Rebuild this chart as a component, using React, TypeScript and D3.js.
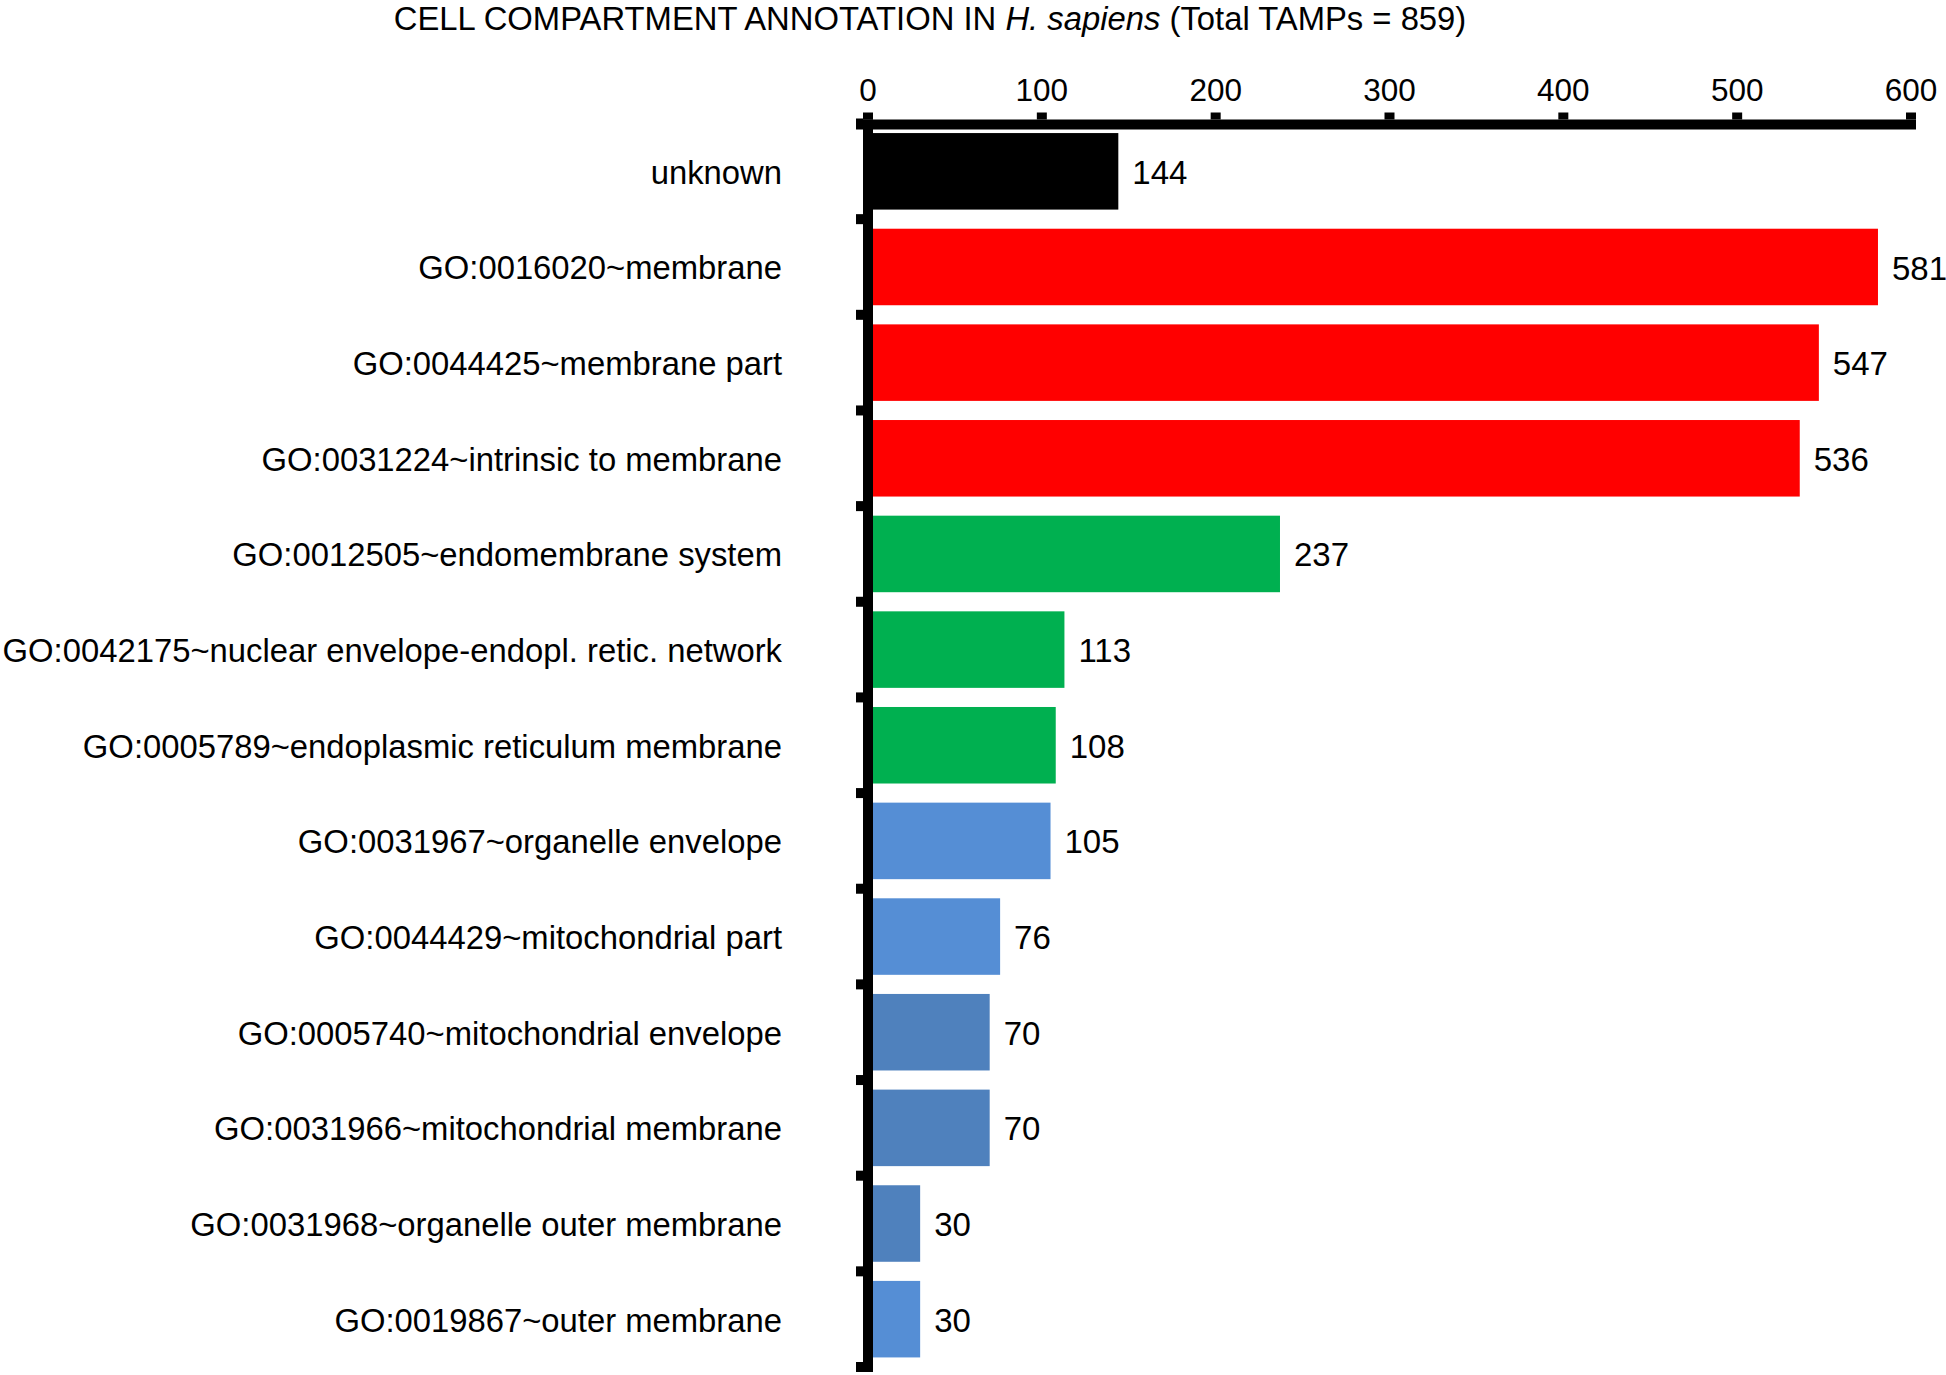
import React from "react";
import * as d3 from "d3";

const categories = [
  "unknown",
  "GO:0016020~membrane",
  "GO:0044425~membrane part",
  "GO:0031224~intrinsic to membrane",
  "GO:0012505~endomembrane system",
  "GO:0042175~nuclear envelope-endopl. retic. network",
  "GO:0005789~endoplasmic reticulum membrane",
  "GO:0031967~organelle envelope",
  "GO:0044429~mitochondrial part",
  "GO:0005740~mitochondrial envelope",
  "GO:0031966~mitochondrial membrane",
  "GO:0031968~organelle outer membrane",
  "GO:0019867~outer membrane",
];
const values = [144, 581, 547, 536, 237, 113, 108, 105, 76, 70, 70, 30, 30];
const barColors = [
  "#000000",
  "#ff0000", "#ff0000", "#ff0000",
  "#00b050", "#00b050", "#00b050",
  "#558ed5", "#558ed5",
  "#4f81bd", "#4f81bd", "#4f81bd",
  "#558ed5",
];
const xTicks = [0, 100, 200, 300, 400, 500, 600];

const FONT = "'Liberation Sans', Arial, Helvetica, sans-serif";

export default function App() {
  const W = 1946, H = 1375;
  const x = d3.scaleLinear().domain([0, 600]).range([868, 1911]);
  const y = d3.scaleBand<string>().domain(categories).range([123.5, 1367]).paddingInner(0.2).paddingOuter(0.1);
  const step = y.step();
  const boundaries = d3.range(categories.length + 1).map((i) => 123.5 + i * step);
  const axisY = 124.5;
  const axisX = x(0);
  const lw = 10;

  return (
    <svg width={W} height={H} style={{ position: "absolute", left: 0, top: 0, background: "#fff" }} fontFamily={FONT}>
      <rect x={0} y={0} width={W} height={H} fill="#fff" />
      <text x={930} y={30} textAnchor="middle" fontSize={32.8} fill="#000">
        CELL COMPARTMENT ANNOTATION IN <tspan fontStyle="italic">H. sapiens</tspan> (Total TAMPs = 859)
      </text>

      {categories.map((c, i) => (
        <rect key={"b" + i} x={x(0)} y={y(c)!} width={x(values[i]) - x(0)} height={y.bandwidth()} fill={barColors[i]} />
      ))}

      {categories.map((c, i) => (
        <text key={"v" + i} x={x(values[i]) + 14} y={y(c)! + y.bandwidth() / 2} dy="0.38em" fontSize={33} fill="#000">
          {values[i]}
        </text>
      ))}

      {categories.map((c, i) => (
        <text key={"c" + i} x={782} y={y(c)! + y.bandwidth() / 2} dy="0.38em" textAnchor="end" fontSize={32.8} fill="#000">
          {c}
        </text>
      ))}

      {/* top axis */}
      <rect x={856} y={axisY - lw / 2} width={x(600) + 5 - 856} height={lw} fill="#000" />
      {xTicks.map((t) => (
        <g key={"t" + t}>
          <rect x={x(t) - lw / 2} y={axisY - lw / 2 - 7} width={lw} height={7} fill="#000" />
          <text x={x(t)} y={101} textAnchor="middle" fontSize={31.5} fill="#000">{t}</text>
        </g>
      ))}

      {/* left axis */}
      <rect x={axisX - lw / 2} y={axisY - lw / 2} width={lw} height={1372 - (axisY - lw / 2)} fill="#000" />
      {boundaries.map((b, i) => (
        <rect key={"l" + i} x={axisX - lw / 2 - 7} y={b - lw / 2} width={7} height={lw} fill="#000" />
      ))}
    </svg>
  );
}
